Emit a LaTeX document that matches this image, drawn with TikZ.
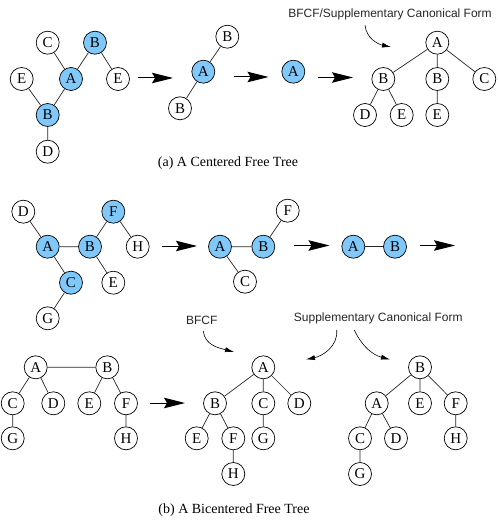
\documentclass[tikz,border=0pt]{standalone}
\usepackage{fontspec}
\setmainfont{Liberation Serif}
\setsansfont{Liberation Sans}
\usetikzlibrary{arrows.meta}
\definecolor{nodeblue}{RGB}{128,200,250}
\tikzset{
 vert/.style={circle,draw=black,line width=0.7pt,fill=white,minimum size=23pt,inner sep=0pt,font=\fontsize{15}{15}\selectfont},
 cen/.style={vert,fill=nodeblue},
 edge/.style={line width=0.7pt,draw=black!85},
 bigarrow/.style={line width=1pt,-{Stealth[length=21pt,width=10.5pt,inset=3pt]}},
 callout/.style={line width=0.6pt,-{Latex[length=9pt,width=5pt]}},
 lbl/.style={font=\sffamily\fontsize{12}{12}\selectfont,text=black!85,inner sep=0pt},
 captext/.style={font=\fontsize{14}{14}\selectfont,inner sep=0pt}
}
\begin{document}
\begin{tikzpicture}[x=1pt,y=-1pt]
\useasboundingbox (0,0) rectangle (497,521);
% ---------- (a) ----------
\node[vert] (aC) at (47.7,42.7) {C};
\node[cen] (aB1) at (95,42.7) {B};
\node[vert] (aE1) at (21.7,79) {E};
\node[cen] (aA) at (71,79) {A};
\node[vert] (aE2) at (118,79) {E};
\node[cen] (aB2) at (47.7,115) {B};
\node[vert] (aD) at (47.7,151.7) {D};
\draw[edge] (aC)--(aA) (aB1)--(aA) (aE1)--(aB2) (aA)--(aB2) (aB1)--(aE2) (aB2)--(aD);

\coordinate (ar1s) at (138,78);
\coordinate (ar1e) at (173,78);
\draw[bigarrow] (ar1s)--(ar1e);

\node[vert] (bB1) at (227.3,36.7) {B};
\node[cen] (bA) at (203.3,71.7) {A};
\node[vert] (bB2) at (180,108.3) {B};
\draw[edge] (bB1)--(bA) (bA)--(bB2);

\coordinate (ar2s) at (234,77);
\coordinate (ar2e) at (268.5,77);
\draw[bigarrow] (ar2s)--(ar2e);

\node[cen] (cA) at (293.3,71.7) {A};

\coordinate (ar3s) at (318,77.5);
\coordinate (ar3e) at (353,77.5);
\draw[bigarrow] (ar3s)--(ar3e);

\node[vert] (dA) at (437.3,42.7) {A};
\node[vert] (dB1) at (383.3,79) {B};
\node[vert] (dB2) at (437.3,79) {B};
\node[vert] (dC) at (484.3,79) {C};
\node[vert] (dD) at (365,115) {D};
\node[vert] (dE1) at (401.7,115) {E};
\node[vert] (dE2) at (437.3,115) {E};
\draw[edge] (dA)--(dB1) (dA)--(dB2) (dA)--(dC) (dB1)--(dD) (dB1)--(dE1) (dB2)--(dE2);

\node[lbl] (lab1) at (390,14) {BFCF/Supplementary Canonical Form};
\coordinate (c1s) at (365,25);
\coordinate (c1e) at (391,47);
\draw[callout] (c1s) to[out=-85,in=168] (c1e);

\node[captext] (capa) at (228,163) {(a) A Centered Free Tree};

% ---------- (b) ----------
\node[vert] (eD) at (23.3,211.7) {D};
\node[cen] (eF) at (113.3,211.7) {F};
\node[cen] (eA) at (47.7,246.7) {A};
\node[cen] (eB) at (90,246.7) {B};
\node[vert] (eH) at (137.7,246.7) {H};
\node[cen] (eC) at (71,282.7) {C};
\node[vert] (eE) at (113.3,282.7) {E};
\node[vert] (eG) at (47.7,318.3) {G};
\draw[edge] (eD)--(eA) (eA)--(eB) (eA)--(eC) (eC)--(eG) (eB)--(eF) (eF)--(eH) (eB)--(eE);

\coordinate (ar4s) at (162.3,246);
\coordinate (ar4e) at (197,246);
\draw[bigarrow] (ar4s)--(ar4e);

\node[cen] (fA) at (220,246.7) {A};
\node[cen] (fB) at (263.3,246.7) {B};
\node[vert] (fF) at (287.7,210.7) {F};
\node[vert] (fC) at (245,281.7) {C};
\draw[edge] (fA)--(fB) (fA)--(fC) (fB)--(fF);

\coordinate (ar5s) at (294,245.5);
\coordinate (ar5e) at (329.5,245.5);
\draw[bigarrow] (ar5s)--(ar5e);

\node[cen] (gA) at (353.3,246.7) {A};
\node[cen] (gB) at (395,246.7) {B};
\draw[edge] (gA)--(gB);

\coordinate (ar6s) at (420,245.5);
\coordinate (ar6e) at (455,245.5);
\draw[bigarrow] (ar6s)--(ar6e);

% bottom-left bicentered tree
\node[vert] (hA) at (35.7,367.3) {A};
\node[vert] (hB) at (107.3,367.3) {B};
\node[vert] (hC) at (12.7,403.3) {C};
\node[vert] (hD) at (53.3,403.3) {D};
\node[vert] (hE) at (89.3,403.3) {E};
\node[vert] (hF) at (126,403.3) {F};
\node[vert] (hG) at (12.7,438.3) {G};
\node[vert] (hH) at (126,438.3) {H};
\draw[edge] (hA)--(hB) (hA)--(hC) (hA)--(hD) (hB)--(hE) (hB)--(hF) (hC)--(hG) (hF)--(hH);

\coordinate (ar7s) at (150,403);
\coordinate (ar7e) at (185,403);
\draw[bigarrow] (ar7s)--(ar7e);

% BFCF tree
\node[vert] (iA) at (263.3,367.3) {A};
\node[vert] (iB) at (215,403.3) {B};
\node[vert] (iC) at (263.3,403.3) {C};
\node[vert] (iD) at (299.3,403.3) {D};
\node[vert] (iE) at (196.7,438.3) {E};
\node[vert] (iF) at (233.3,438.3) {F};
\node[vert] (iG) at (263.3,438.3) {G};
\node[vert] (iH) at (233.3,474) {H};
\draw[edge] (iA)--(iB) (iA)--(iC) (iA)--(iD) (iB)--(iE) (iB)--(iF) (iF)--(iH) (iC)--(iG);

% supplementary tree
\node[vert] (jB) at (420,367.3) {B};
\node[vert] (jA) at (376.7,403.3) {A};
\node[vert] (jE) at (420,403.3) {E};
\node[vert] (jF) at (455.7,403.3) {F};
\node[vert] (jC) at (360,438.3) {C};
\node[vert] (jD) at (396,438.3) {D};
\node[vert] (jH) at (455.7,438.3) {H};
\node[vert] (jG) at (360,474) {G};
\draw[edge] (jB)--(jA) (jB)--(jE) (jB)--(jF) (jA)--(jC) (jA)--(jD) (jF)--(jH) (jC)--(jG);

\node[lbl] (lab2) at (201.7,320) {BFCF};
\coordinate (c2s) at (203.3,331);
\coordinate (c2e) at (234,352);
\draw[callout] (c2s) to[out=-85,in=165] (c2e);

\node[lbl] (lab3) at (378.3,318.5) {Supplementary Canonical Form};
\coordinate (c3s) at (336.7,330);
\coordinate (c3e) at (306,359.5);
\draw[callout] (c3s) to[out=-85,in=12] (c3e);
\coordinate (c4s) at (354.3,330);
\coordinate (c4e) at (390,359.5);
\draw[callout] (c4s) to[out=-65,in=165] (c4e);

\node[captext] (capb) at (234,510) {(b) A Bicentered Free Tree};
\end{tikzpicture}
\end{document}
